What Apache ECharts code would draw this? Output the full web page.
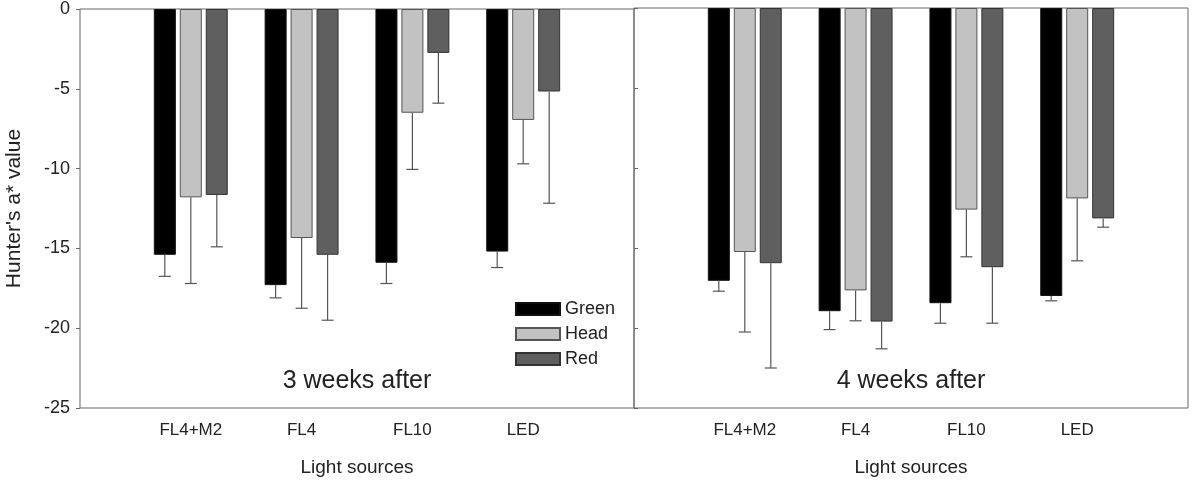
<!DOCTYPE html>
<html>
<head>
<meta charset="utf-8">
<style>
  html, body { margin: 0; padding: 0; background: #fff; }
  #chart { width: 1200px; height: 483px; }
</style>
<script src="https://cdn.jsdelivr.net/npm/echarts@6/dist/echarts.min.js"></script>
</head>
<body>
<div id="chart"></div>
<script>
var categories = ['FL4+M2', 'FL4', 'FL10', 'LED']
var seriesNames = ['Green', 'Head', 'Red']
var yTicks = [0, -5, -10, -15, -20, -25]

// 3 weeks after
var green3 = [-15.4, -17.3, -15.9, -15.2]
var head3 = [-11.8, -14.35, -6.5, -6.95]
var red3 = [-11.65, -15.4, -2.75, -5.17]
var greenErr3 = [1.35, 0.8, 1.3, 1.0]
var headErr3 = [5.4, 4.4, 3.55, 2.75]
var redErr3 = [3.25, 4.1, 3.15, 7.0]

// 4 weeks after
var green4 = [-17.05, -18.95, -18.45, -18.0]
var head4 = [-15.25, -17.65, -12.6, -11.9]
var red4 = [-15.95, -19.6, -16.2, -13.15]
var greenErr4 = [0.65, 1.15, 1.25, 0.3]
var headErr4 = [5.0, 1.9, 2.95, 3.9]
var redErr4 = [6.55, 1.7, 3.5, 0.55]

var colors = ['#000000', '#c2c2c2', '#5f5f5f']
var borders = ['#111111', '#555555', '#333333']
var barW = 22
var barStep = 26
var font = 'Liberation Sans, Arial, sans-serif'

// pad an empty slot on each side so groups sit where the picture has them
function pad(arr) {
  return [null].concat(arr).concat([null])
}
var paddedCats = [''].concat(categories).concat([''])

var chart = echarts.init(document.getElementById('chart'))

var panels = [
  { vals: [green3, head3, red3], errs: [greenErr3, headErr3, redErr3] },
  { vals: [green4, head4, red4], errs: [greenErr4, headErr4, redErr4] }
]

var series = []
panels.forEach(function (p, gi) {
  p.vals.forEach(function (v, si) {
    series.push({
      name: seriesNames[si],
      type: 'bar',
      xAxisIndex: gi,
      yAxisIndex: gi,
      barWidth: barW,
      barGap: '18%',
      data: pad(v),
      itemStyle: { color: colors[si], borderColor: borders[si], borderWidth: 1 },
      emphasis: { disabled: true },
      z: 2
    })
  })
  p.vals.forEach(function (v, si) {
    var errData = []
    v.forEach(function (m, i) {
      errData.push([i + 1, m, m - p.errs[si][i]])
    })
    series.push({
      type: 'custom',
      xAxisIndex: gi,
      yAxisIndex: gi,
      silent: true,
      z: 3,
      data: errData,
      renderItem: function (params, api) {
        var top = api.coord([api.value(0), api.value(1)])
        var bot = api.coord([api.value(0), api.value(2)])
        var x = top[0] + (si - 1) * barStep
        var st = { stroke: '#555', lineWidth: 1.2 }
        return {
          type: 'group',
          children: [
            { type: 'line', shape: { x1: x, y1: top[1], x2: x, y2: bot[1] }, style: st },
            { type: 'line', shape: { x1: x - 6, y1: bot[1], x2: x + 6, y2: bot[1] }, style: st }
          ]
        }
      }
    })
  })
})

function makeX(gi) {
  return {
    type: 'category',
    gridIndex: gi,
    data: paddedCats,
    boundaryGap: false,
    axisLine: { show: false },
    axisTick: { show: false },
    axisLabel: { color: '#222', fontSize: 17, fontFamily: font, margin: 14, interval: 0 },
    name: 'Light sources',
    nameLocation: 'middle',
    nameGap: 50,
    nameTextStyle: { color: '#222', fontSize: 19, fontFamily: font }
  }
}

function makeY(gi) {
  return {
    type: 'value',
    gridIndex: gi,
    min: yTicks[yTicks.length - 1],
    max: yTicks[0],
    interval: 5,
    splitLine: { show: false },
    axisLine: { show: false },
    axisTick: { show: true, inside: gi === 1, length: 4, lineStyle: { color: '#666' } },
    axisLabel: {
      show: gi === 0,
      color: '#222',
      fontSize: 18,
      fontFamily: font,
      margin: 10
    },
    name: gi === 0 ? "Hunter's a* value" : '',
    nameLocation: 'middle',
    nameGap: 55,
    nameTextStyle: { color: '#222', fontSize: 21, fontFamily: font }
  }
}

chart.setOption({
  animation: false,
  backgroundColor: '#fff',
  legend: {
    data: seriesNames,
    orient: 'vertical',
    left: 510,
    top: 295,
    itemWidth: 44,
    itemHeight: 12,
    itemGap: 7,
    icon: 'rect',
    textStyle: { color: '#222', fontSize: 18, fontFamily: font },
    selectedMode: false
  },
  grid: [
    { left: 80, top: 8, width: 554, height: 400, show: true, borderColor: '#666', borderWidth: 1, backgroundColor: 'transparent' },
    { left: 634, top: 8, width: 554, height: 400, show: true, borderColor: '#666', borderWidth: 1, backgroundColor: 'transparent' }
  ],
  xAxis: [makeX(0), makeX(1)],
  yAxis: [makeY(0), makeY(1)],
  graphic: [
    { type: 'text', style: { text: '3 weeks after', x: 357, y: 381, align: 'center', verticalAlign: 'middle', fontSize: 25, fontFamily: font, fill: '#222' } },
    { type: 'text', style: { text: '4 weeks after', x: 911, y: 381, align: 'center', verticalAlign: 'middle', fontSize: 25, fontFamily: font, fill: '#222' } }
  ],
  series: series
})
</script>
</body>
</html>
